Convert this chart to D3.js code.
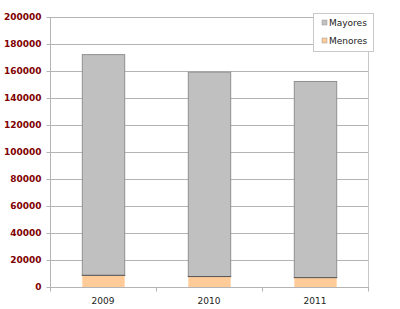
<!DOCTYPE html>
<html lang="es">
<head>
  <meta charset="UTF-8" />
  <title>Mayores y Menores</title>
  <script src="https://cdnjs.cloudflare.com/ajax/libs/d3/7.8.2/d3.min.js"></script>
  <style>
    body { margin: 0; padding: 0; background: #fff; }
    svg { display: block; }
    .ytick text { font-family: "DejaVu Sans", sans-serif; font-size: 9px; font-weight: bold; fill: #800000; }
    .xtick text { font-family: "DejaVu Sans", sans-serif; font-size: 9px; fill: #222; }
    .legend text { font-family: "DejaVu Sans", sans-serif; font-size: 9px; fill: #222; }
  </style>
</head>
<body>
<svg id="chart" width="400" height="309"></svg>
<script>
// data
const years = ["2009", "2010", "2011"];
const menores = [9000, 8100, 7300];
const mayores = [163500, 151400, 145300];
const yTicks = [0, 20000, 40000, 60000, 80000, 100000, 120000, 140000, 160000, 180000, 200000];

const svg = d3.select("#chart");
const mLeft = 50, mRight = 368, mTop = 17, mBottom = 287;

const x = d3.scaleBand().domain(years).range([mLeft, mRight]).paddingInner(0.6).paddingOuter(0.3);
const xb = d3.scaleBand().domain(years).range([mLeft, mRight]);
const y = d3.scaleLinear().domain([0, 200000]).range([mBottom, mTop]);

// gridlines
svg.append("g").selectAll("line").data(yTicks.slice(1)).join("line")
  .attr("x1", mLeft).attr("x2", mRight)
  .attr("y1", d => y(d) + 0.5).attr("y2", d => y(d) + 0.5)
  .attr("stroke", "#b4b4b4");

// right border of plot
svg.append("line").attr("x1", mRight + 0.5).attr("x2", mRight + 0.5)
  .attr("y1", mTop).attr("y2", mBottom).attr("stroke", "#c8c8c8");

// stacked bars
const stacks = years.map((yr, i) => ({ yr, men: menores[i], may: mayores[i] }));
const bars = svg.append("g");
bars.selectAll(".may").data(stacks).join("rect")
  .attr("x", d => x(d.yr) + 0.5).attr("width", x.bandwidth())
  .attr("y", d => y(d.men + d.may) + 0.5).attr("height", d => y(d.men) - y(d.men + d.may))
  .attr("fill", "#c0c0c0").attr("stroke", "#909090");
bars.selectAll(".men").data(stacks).join("rect")
  .attr("x", d => x(d.yr) + 0.5).attr("width", x.bandwidth())
  .attr("y", d => y(d.men) + 0.5).attr("height", d => y(0) - y(d.men))
  .attr("fill", "#ffcc99").attr("stroke", "none");
bars.selectAll(".sep").data(stacks).join("line")
  .attr("x1", d => x(d.yr)).attr("x2", d => x(d.yr) + x.bandwidth() + 1)
  .attr("y1", d => y(d.men) + 0.5).attr("y2", d => y(d.men) + 0.5)
  .attr("stroke", "#555");

// y axis
const yAxis = svg.append("g").attr("class", "ytick").attr("transform", `translate(${mLeft + 0.5},0)`)
  .call(d3.axisLeft(y).tickValues(yTicks).tickFormat(d3.format("d")).tickSize(4).tickPadding(5));
yAxis.selectAll("line, path").attr("stroke", "#b4b4b4");
yAxis.select(".domain").attr("d", `M0,${mTop}V${mBottom + 0.5}`);

// x axis
const xAxis = svg.append("g").attr("class", "xtick").attr("transform", `translate(0,${mBottom + 0.5})`);
xAxis.append("line").attr("x1", mLeft).attr("x2", mRight + 1).attr("stroke", "#b4b4b4");
xAxis.selectAll(".tk").data([...years.map(d => xb(d)), mRight]).join("line")
  .attr("x1", d => d + 0.5).attr("x2", d => d + 0.5).attr("y1", 0).attr("y2", 4)
  .attr("stroke", "#b4b4b4");
xAxis.selectAll("text").data(years).join("text")
  .attr("x", d => xb(d) + xb.bandwidth() / 2).attr("y", 16)
  .attr("text-anchor", "middle").text(d => d);

// legend
const series = [{ name: "Mayores", color: "#c0c0c0" }, { name: "Menores", color: "#ffcc99" }];
const lg = svg.append("g").attr("class", "legend");
lg.append("rect").attr("x", 313.5).attr("y", 13.5).attr("width", 60).attr("height", 38)
  .attr("fill", "#fff").attr("stroke", "#c8c8c8");
const it = lg.selectAll(".it").data(series).join("g")
  .attr("transform", (d, i) => `translate(322,${24 + i * 18})`);
it.append("rect").attr("x", 0).attr("y", -4).attr("width", 5).attr("height", 5)
  .attr("fill", d => d.color).attr("stroke", "#999").attr("stroke-width", 0.5);
it.append("text").attr("x", 7).attr("y", 1.5).attr("dy", "0.1em").text(d => d.name);
</script>
</body>
</html>
